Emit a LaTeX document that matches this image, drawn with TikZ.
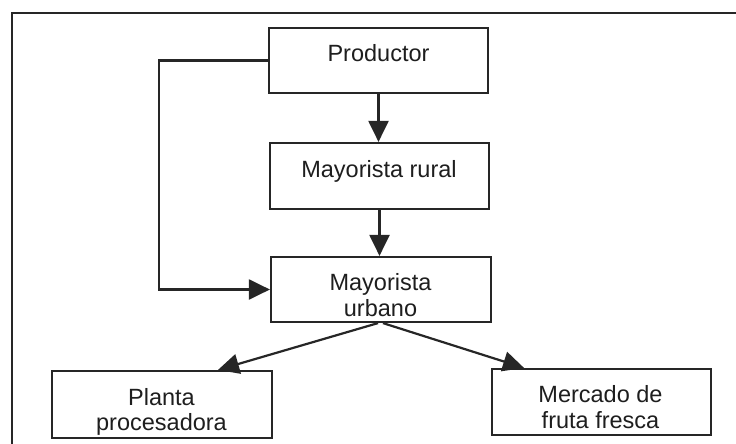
\documentclass[tikz,border=0pt]{standalone}
\usepackage{fontspec}
\setmainfont{Liberation Sans}
\usetikzlibrary{arrows.meta,calc}

\definecolor{ink}{HTML}{262626}
\definecolor{txt}{HTML}{1E1E1E}

\tikzset{
  box/.style={draw=ink, line width=2.2pt, inner sep=0pt, fill=white},
  lbl/.style={anchor=base, inner sep=0pt, text=txt,
              font=\fontsize{23.5}{26}\selectfont},
  flow/.style={draw=ink, line width=2.2pt,
               -{Triangle[length=21pt,width=20pt]}},
  frame/.style={draw=ink, line width=2pt}
}

\begin{document}
\begin{tikzpicture}[x=1pt,y=-1pt]
  \useasboundingbox (0,0) rectangle (736,444);

  % outer frame (open at the bottom and the right)
  \draw[frame] (12,444) -- (12,13) -- (736,13);

  % boxes
  \node[box, minimum width=219pt, minimum height=65pt] (prod)    at (378.5,60.5) {};
  \node[box, minimum width=219pt, minimum height=66pt] (mr)      at (379.5,176)  {};
  \node[box, minimum width=220pt, minimum height=65pt] (mu)      at (381,289.5)  {};
  \node[box, minimum width=220pt, minimum height=67pt] (planta)  at (162,404.5)  {};
  \node[box, minimum width=219pt, minimum height=66pt] (mercado) at (601.5,402)  {};

  % labels
  \node[lbl] (prodT)     at (378.5,62)  {Productor};
  \node[lbl] (mrT)       at (379,177)   {Mayorista rural};
  \node[lbl] (muT1)      at (380.5,290) {Mayorista};
  \node[lbl] (muT2)      at (380.5,316) {urbano};
  \node[lbl] (plantaT1)  at (161.5,405) {Planta};
  \node[lbl] (plantaT2)  at (161.5,430) {procesadora};
  \node[lbl] (mercadoT1) at (600.5,402) {Mercado de};
  \node[lbl] (mercadoT2) at (600.5,428) {fruta fresca};

  % connectors
  \draw[flow] (prod.south) -- (prod.south |- mr.north);
  \draw[flow] (mr.south) -- (mr.south |- mu.north);
  \coordinate (bend) at ($(prod.west)+(-109,0)$);
  \draw[flow] (prod.west) -- (bend) |- (mu.west);
  \coordinate (mustartL) at ($(mu.south)+(-3,0)$);
  \coordinate (mustartR) at ($(mu.south)+(2,0)$);
  \draw[flow] (mustartL) -- ($(planta.north)+(56,0)$);
  \draw[flow] (mustartR) -- ($(mercado.north)+(-77.5,0)$);
\end{tikzpicture}
\end{document}
